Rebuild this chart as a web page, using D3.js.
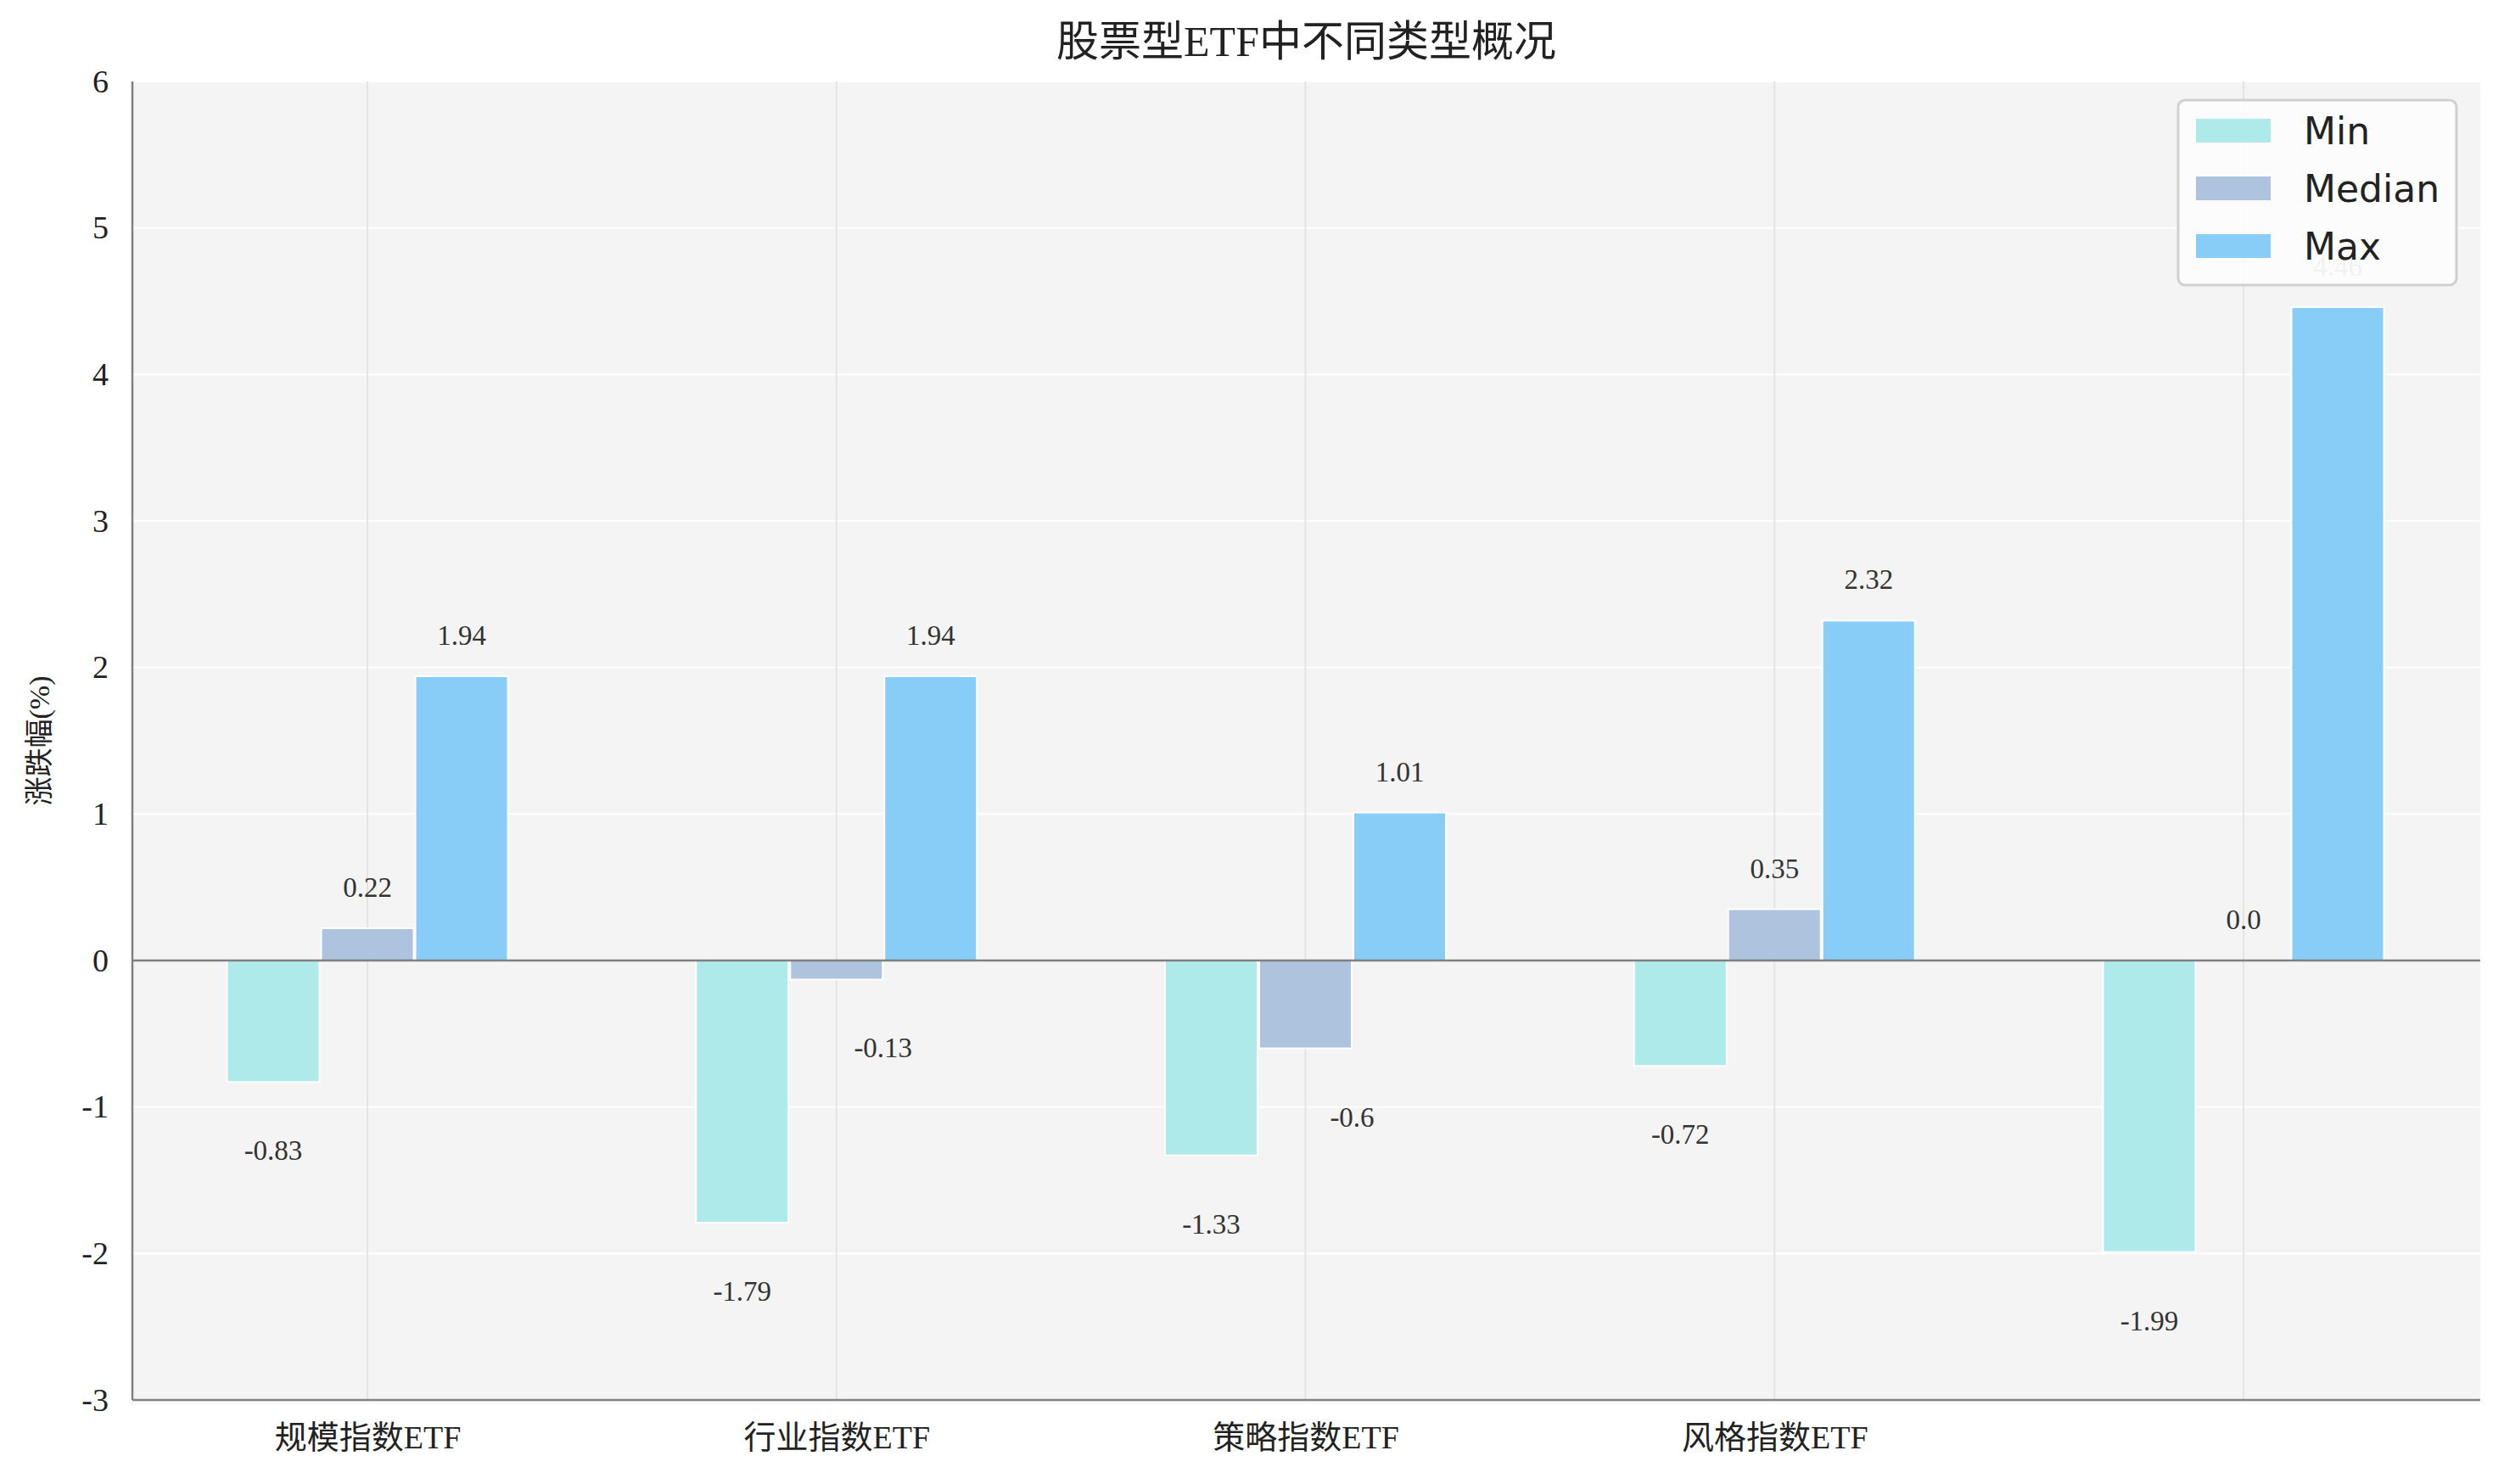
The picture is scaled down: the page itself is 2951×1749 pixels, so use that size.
<!DOCTYPE html>
<html><head><meta charset="utf-8">
<script src="https://cdn.jsdelivr.net/npm/d3@7"></script>
<style>body{margin:0;background:#fff}</style></head>
<body><svg id="c" width="2951" height="1749"></svg>
<script>
const categories=["规模指数ETF","行业指数ETF","策略指数ETF","风格指数ETF",""];
const minVals=[-0.83,-1.79,-1.33,-0.72,-1.99];
const medianVals=[0.22,-0.13,-0.6,0.35,0.0];
const maxVals=[1.94,1.94,1.01,2.32,4.46];
const seriesNames=["Min","Median","Max"];
const colors=["#aeeaea","#aec3de","#87cdf7"];
const yTicks=[-3,-2,-1,0,1,2,3,4,5,6];

const svg=d3.select("#c");
const L=156,R=2923,T=96,B=1650;
const serif="'Liberation Serif','Noto Sans CJK SC',serif";
svg.append("rect").attr("x",L).attr("y",T).attr("width",R-L).attr("height",B-T).attr("fill","#f4f4f4");
const y=d3.scaleLinear().domain([-3,6]).range([B,T]);
const x=d3.scalePoint().domain(d3.range(5)).range([433,2644]);
const bw=109, step=111;
svg.selectAll(".hg").data(yTicks).join("line").attr("x1",L).attr("x2",R).attr("y1",d=>y(d)).attr("y2",d=>y(d)).attr("stroke","#fff").attr("stroke-width",2);
svg.selectAll(".vg").data(d3.range(5)).join("line").attr("x1",d=>x(d)).attr("x2",d=>x(d)).attr("y1",T).attr("y2",B).attr("stroke","#e4e4e4").attr("stroke-width",2);
const series=[minVals,medianVals,maxVals];
series.forEach((vals,s)=>{
  svg.append("g").selectAll("rect").data(vals).join("rect")
    .attr("x",(d,i)=>x(i)+(s-1)*step-bw/2).attr("width",bw)
    .attr("y",d=>y(Math.max(0,d))).attr("height",d=>Math.abs(y(d)-y(0)))
    .attr("fill",colors[s]).attr("stroke","#fff").attr("stroke-width",2);
});
svg.append("line").attr("x1",L).attr("x2",R).attr("y1",y(0)).attr("y2",y(0)).attr("stroke","#808080").attr("stroke-width",2.5);
series.forEach((vals,s)=>{
  svg.append("g").selectAll("text").data(vals).join("text")
    .attr("x",(d,i)=>x(i)+(s-1)*step+(s===1&&d<0?55:0))
    .attr("y",d=>d>=0?y(d)-37:y(d)+92)
    .attr("text-anchor","middle").attr("font-family",serif).attr("font-size",33).attr("fill","#333")
    .text(d=>d===0?"0.0":String(d));
});
const ya=svg.append("g").attr("transform",`translate(${L},0)`).call(d3.axisLeft(y).tickValues(yTicks).tickSize(0).tickPadding(28).tickFormat(d=>String(d)));
ya.select(".domain").remove();
ya.selectAll("text").attr("font-family",serif).attr("font-size",38).attr("fill","#222");
const xa=svg.append("g").attr("transform",`translate(0,${B})`).call(d3.axisBottom(x).tickSize(0).tickPadding(30).tickFormat(i=>categories[i]));
xa.select(".domain").remove();
xa.selectAll("text").attr("font-family",serif).attr("font-size",38).attr("fill","#222");
svg.append("line").attr("x1",L).attr("x2",L).attr("y1",T).attr("y2",B).attr("stroke","#808080").attr("stroke-width",2.5);
svg.append("line").attr("x1",L).attr("x2",R).attr("y1",B).attr("y2",B).attr("stroke","#808080").attr("stroke-width",2.5);
svg.append("text").attr("transform",`translate(58,${y(1.5)}) rotate(-90)`).attr("text-anchor","middle").attr("font-family",serif).attr("font-size",34).attr("fill","#222").text("涨跌幅(%)");
svg.append("text").attr("x",(L+R)/2).attr("y",66).attr("text-anchor","middle").attr("font-family",serif).attr("font-size",50).attr("fill","#222").text("股票型ETF中不同类型概况");
const lg=svg.append("g").attr("transform","translate(2567,118)");
lg.append("rect").attr("width",328).attr("height",218).attr("rx",8).attr("fill","#fcfcfc").attr("fill-opacity",0.95).attr("stroke","#d0d0d0").attr("stroke-width",3);
seriesNames.forEach((n,i)=>{
  lg.append("rect").attr("x",21).attr("y",22+i*68).attr("width",88).attr("height",28).attr("fill",colors[i]);
  lg.append("text").attr("x",148).attr("y",52+i*68).attr("font-family","'DejaVu Sans',sans-serif").attr("font-size",44).attr("fill","#222").text(n);
});
</script></body></html>
